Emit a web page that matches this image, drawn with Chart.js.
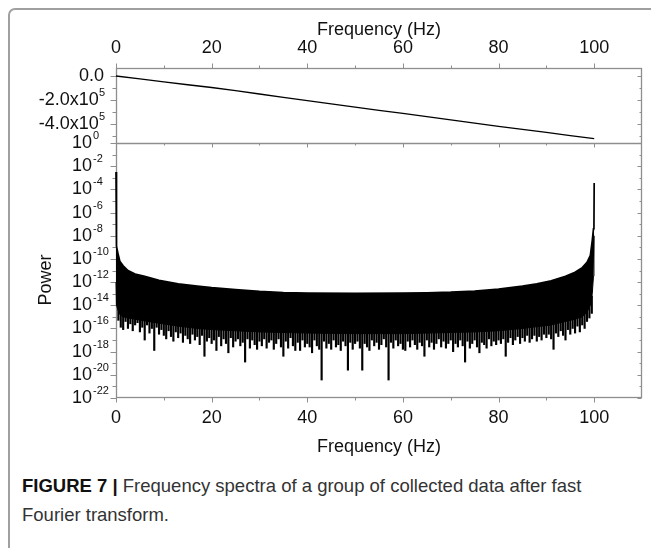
<!DOCTYPE html>
<html>
<head>
<meta charset="utf-8">
<script src="https://cdn.jsdelivr.net/npm/chart.js@4.4.1/dist/chart.umd.min.js"></script>
<style>
body { margin:0; background:#fff; width:651px; height:548px; overflow:hidden; position:relative; }
#frame { position:absolute; left:8px; top:8px; width:700px; height:600px; border:2px solid #a0a0a0; border-radius:7px; }
#fft { position:absolute; left:0; top:0; }
#caption { position:absolute; left:22px; top:471px; width:625px; font-size:18.5px; line-height:29px; color:#333;
  font-family:"Liberation Sans Narrow","Arial Narrow","Liberation Sans",sans-serif; }
#caption b { color:#111; }
</style>
</head>
<body>
<div id="frame"></div>
<canvas id="fft" width="651" height="470"></canvas>
<div id="caption"><b>FIGURE 7 |</b> Frequency spectra of a group of collected data after fast<br>Fourier transform.</div>
<script>
// top panel - phase vs frequency
const phaseFreq = [0, 5, 10, 15, 20, 25, 30, 35, 40, 45, 50, 55, 60, 65, 70, 75, 80, 85, 90, 95, 100];
const phaseValue = [0, -24000, -49000, -73000, -96000, -122000, -150000, -178000, -206000, -233000, -260000,
  -286000, -312000, -339000, -366000, -392000, -420000, -444000, -469000, -496000, -522000];

// bottom panel - power, kept as log10 values
const bandFreq = [0, 0.05, 0.15, 0.4, 0.8, 1.5, 2.5, 4, 6, 9, 13, 17, 20, 25, 30, 35, 40, 50, 60, 65, 70,
  75, 80, 85, 88, 91, 94, 96, 97.5, 98.5, 99.2, 99.6, 99.85, 99.95, 100];
// upper edge of the black band
const bandTopExp = [-2.5, -7.8, -8.9, -9.5, -10.2, -10.6, -11.0, -11.3, -11.5, -11.85, -12.15, -12.35, -12.48,
  -12.65, -12.8, -12.9, -12.95, -12.97, -12.95, -12.92, -12.87, -12.77, -12.6, -12.35, -12.15, -11.9, -11.5,
  -11.15, -10.75, -10.3, -9.7, -8.4, -7.4, -7.3, -3.45];
// where the solid black stops
const bandFloorExp = [-12, -13.5, -14.0, -14.4, -14.8, -15.0, -15.1, -15.2, -15.35, -15.55, -15.8, -16.0, -16.1,
  -16.2, -16.3, -16.35, -16.4, -16.45, -16.45, -16.4, -16.35, -16.3, -16.2, -16.0, -15.85, -15.7, -15.4,
  -15.2, -15.0, -14.6, -14.0, -13.0, -11.5, -10, -8];

// downward spikes under the band
const grassFreq = [0.5, 1, 1.5, 2, 2.5, 3, 3.5, 4, 4.5, 5, 5.5, 6, 6.5, 7, 7.5, 8, 8.5, 9, 9.5, 10,
  10.5, 11, 11.5, 12, 12.5, 13, 13.5, 14, 14.5, 15, 15.5, 16, 16.5, 17, 17.5, 18, 18.5, 19, 19.5, 20,
  20.5, 21, 21.5, 22, 22.5, 23, 23.5, 24, 24.5, 25, 25.5, 26, 26.5, 27, 27.5, 28, 28.5, 29, 29.5, 30,
  30.5, 31, 31.5, 32, 32.5, 33, 33.5, 34, 34.5, 35, 35.5, 36, 36.5, 37, 37.5, 38, 38.5, 39, 39.5, 40,
  40.5, 41, 41.5, 42, 42.5, 43, 43.5, 44, 44.5, 45, 45.5, 46, 46.5, 47, 47.5, 48, 48.5, 49, 49.5, 50,
  50.5, 51, 51.5, 52, 52.5, 53, 53.5, 54, 54.5, 55, 55.5, 56, 56.5, 57, 57.5, 58, 58.5, 59, 59.5, 60,
  60.5, 61, 61.5, 62, 62.5, 63, 63.5, 64, 64.5, 65, 65.5, 66, 66.5, 67, 67.5, 68, 68.5, 69, 69.5, 70,
  70.5, 71, 71.5, 72, 72.5, 73, 73.5, 74, 74.5, 75, 75.5, 76, 76.5, 77, 77.5, 78, 78.5, 79, 79.5, 80,
  80.5, 81, 81.5, 82, 82.5, 83, 83.5, 84, 84.5, 85, 85.5, 86, 86.5, 87, 87.5, 88, 88.5, 89, 89.5, 90,
  90.5, 91, 91.5, 92, 92.5, 93, 93.5, 94, 94.5, 95, 95.5, 96, 96.5, 97, 97.5, 98, 98.5, 99, 99.5];
const grassExp = [
  -15.3, -15.9, -16.1, -15.4, -16.0, -15.6, -16.2, -15.7, -15.5, -16.3, -15.9, -17.0, -15.7, -16.4, -16.0, -17.9, -15.9, -16.5, -16.1, -16.6,
  -16.9, -16.2, -16.7, -17.1, -16.3, -16.8, -16.4, -17.2, -16.6, -16.9, -17.3, -16.5, -17.0, -16.7, -17.4, -16.6, -18.4, -17.1, -16.8, -17.3,
  -17.0, -17.9, -16.7, -17.5, -16.9, -17.3, -18.1, -16.8, -17.6, -17.1, -16.9, -17.5, -17.2, -18.9, -16.9, -17.7, -17.0, -17.4, -17.8, -17.1,
  -17.5, -16.9, -17.7, -17.2, -17.0, -17.8, -17.3, -16.9, -17.6, -18.4, -17.1, -17.7, -16.8, -17.5, -17.9, -17.2, -17.9, -17.0, -17.6, -17.3,
  -17.6, -18.1, -17.0, -17.5, -17.8, -20.45, -17.1, -17.7, -17.3, -17.8, -17.0, -17.6, -17.4, -17.9, -17.1, -17.5, -19.6, -17.2, -17.8, -17.3,
  -17.1, -17.7, -19.6, -17.3, -17.6, -17.9, -17.0, -17.5, -17.2, -17.8, -17.4, -16.9, -17.6, -20.45, -17.2, -17.7, -17.0, -17.5, -17.3, -17.8,
  -17.9, -17.1, -17.6, -17.0, -17.4, -17.8, -17.2, -17.5, -18.4, -17.0, -17.6, -17.2, -17.8, -17.3, -16.9, -17.6, -17.1, -17.7, -17.3, -17.0,
  -18.0, -17.3, -17.6, -17.0, -17.5, -18.9, -17.1, -17.7, -17.3, -17.0, -17.6, -18.1, -17.2, -17.4, -17.7, -16.9, -17.5, -17.1, -17.4, -17.0,
  -17.3, -16.9, -18.4, -17.2, -16.8, -17.4, -17.0, -16.7, -17.3, -16.8, -17.1, -16.6, -17.2, -16.9, -16.6, -17.1, -16.7, -17.0, -16.5, -16.8,
  -16.5, -16.9, -17.8, -16.4, -16.7, -16.2, -16.6, -17.0, -16.1, -16.5, -16.0, -16.4, -15.8, -16.3, -15.7, -16.0, -15.4, -15.1, -14.7];
const grassTopExp = -13.2;

// axis ticks
const freqTicks = [0, 20, 40, 60, 80, 100];
const freqMinorTicks = [10, 30, 50, 70, 90];
const phaseTicks = [0, -200000, -400000];
const phaseMinorTicks = [-100000, -300000, -500000];
const phaseTickLabels = [['0.0', ''], ['-2.0x10', '5'], ['-4.0x10', '5']];
const powerTickExp = [0, -2, -4, -6, -8, -10, -12, -14, -16, -18, -20, -22];
const powerMinorExp = [-1, -3, -5, -7, -9, -11, -13, -15, -17, -19, -21];

const FONT = '"Liberation Sans", Arial, sans-serif';
const pow10 = e => Math.pow(10, e);

let upperPts = bandFreq.map((f, i) => ({x: f, y: pow10(bandTopExp[i])}));
let floorPts = bandFreq.map((f, i) => ({x: f, y: pow10(bandFloorExp[i])}));
let grassPts = grassFreq.map((f, i) => ({x: f, y: [pow10(grassExp[i]), pow10(grassTopExp)]}));
let phasePts = phaseFreq.map((f, i) => ({x: f, y: phaseValue[i]}));

// frame, ticks and labels of both panels
const axisDeco = {
  id: 'axisDeco',
  beforeDatasetsDraw(chart) {
    const {ctx, chartArea: a, scales} = chart;
    const xs = scales.x, yT = scales.yTop, yB = scales.yBot;
    const mid = Math.round(yB.getPixelForValue(1)) + 0.5;
    const L = a.left + 0.5, R = a.right - 0.5, T = a.top + 0.5, B = a.bottom - 0.5;
    ctx.save();
    ctx.strokeStyle = '#8e8e8e';
    ctx.lineWidth = 1.3;
    ctx.strokeRect(L, T, R - L, B - T);
    const seg = (x1, y1, x2, y2) => { ctx.beginPath(); ctx.moveTo(x1, y1); ctx.lineTo(x2, y2); ctx.stroke(); };
    seg(L, mid, R, mid);
    ctx.lineWidth = 1;
    freqTicks.concat(freqMinorTicks).forEach(v => {
      const px = Math.round(xs.getPixelForValue(v)) + 0.5;
      const len = freqTicks.includes(v) ? 5 : 3;
      seg(px, T, px, T - len);
      seg(px, mid, px, mid + len - 1);
      seg(px, B, px, B + len);
    });
    phaseTicks.concat(phaseMinorTicks).forEach(v => {
      const py = Math.round(yT.getPixelForValue(v)) + 0.5;
      const len = phaseTicks.includes(v) ? 6 : 4;
      seg(L, py, L - len, py);
      seg(R, py, R - len + 2, py);
    });
    powerTickExp.concat(powerMinorExp).forEach(e => {
      const py = Math.round(yB.getPixelForValue(pow10(e))) + 0.5;
      const len = powerTickExp.includes(e) ? 6 : 4;
      seg(L, py, L - len, py);
      seg(R, py, R - len + 2, py);
    });
    ctx.restore();
  },
  afterDraw(chart) {
    const {ctx, chartArea: a, scales} = chart;
    const xs = scales.x, yT = scales.yTop, yB = scales.yBot;
    ctx.save();
    ctx.fillStyle = '#111';
    ctx.textBaseline = 'middle';
    ctx.textAlign = 'center';
    ctx.font = '18px ' + FONT;
    freqTicks.forEach(v => {
      const px = xs.getPixelForValue(v);
      ctx.fillText(String(v), px, a.top - 20);
      ctx.fillText(String(v), px, a.bottom + 20);
    });
    const cx = (a.left + a.right) / 2;
    ctx.fillText('Frequency (Hz)', cx, a.top - 38);
    ctx.fillText('Frequency (Hz)', cx, a.bottom + 49);
    // top panel labels, right aligned
    phaseTicks.forEach((v, i) => {
      const py = yT.getPixelForValue(v);
      const [base, ex] = phaseTickLabels[i];
      let right = a.left - 12;
      ctx.textAlign = 'right';
      if (ex) {
        ctx.font = '11px ' + FONT;
        ctx.fillText(ex, right + 1, py - 7);
        right -= ctx.measureText(ex).width - 1;
      }
      ctx.font = '18px ' + FONT;
      ctx.fillText(base, right, py);
    });
    // bottom panel labels, "10" left aligned with exponent
    powerTickExp.forEach(e => {
      const py = yB.getPixelForValue(pow10(e));
      ctx.textAlign = 'left';
      ctx.font = '18px ' + FONT;
      ctx.fillText('10', 72, py);
      const w = ctx.measureText('10').width;
      ctx.font = '11px ' + FONT;
      ctx.fillText(String(e), 72 + w + 1, py - 7);
    });
    ctx.translate(46, 280);
    ctx.rotate(-Math.PI / 2);
    ctx.textAlign = 'center';
    ctx.font = '18px ' + FONT;
    ctx.fillText('Power', 0, 0);
    ctx.restore();
  }
};

new Chart(document.getElementById('fft'), {
  type: 'line',
  data: {
    datasets: [
      {label: 'upper', data: upperPts, yAxisID: 'yBot', borderColor: '#000', borderWidth: 1.7,
        backgroundColor: '#000', fill: '+1', pointRadius: 0, clip: false},
      {label: 'floor', data: floorPts, yAxisID: 'yBot', borderColor: '#000', borderWidth: 1,
        fill: false, pointRadius: 0, clip: false},
      {type: 'bar', label: 'grass', data: grassPts, yAxisID: 'yBot', backgroundColor: '#000',
        barThickness: 1.5, grouped: false},
      {label: 'phase', data: phasePts, yAxisID: 'yTop', borderColor: '#000', borderWidth: 1.3,
        pointRadius: 0, fill: false}
    ]
  },
  options: {
    responsive: false,
    animation: false,
    devicePixelRatio: 1,
    layout: {padding: {left: 116, right: 9, top: 68, bottom: 72}},
    plugins: {legend: {display: false}, tooltip: {enabled: false}},
    scales: {
      x: {type: 'linear', min: 0, max: 110, offset: false, display: false},
      yTop: {type: 'linear', min: -2683333, max: 66667, display: false},
      yBot: {type: 'logarithmic', min: 1e-22, max: pow10(22 * 330 / 255 - 22), display: false}
    }
  },
  plugins: [axisDeco]
});
</script>
</body>
</html>
